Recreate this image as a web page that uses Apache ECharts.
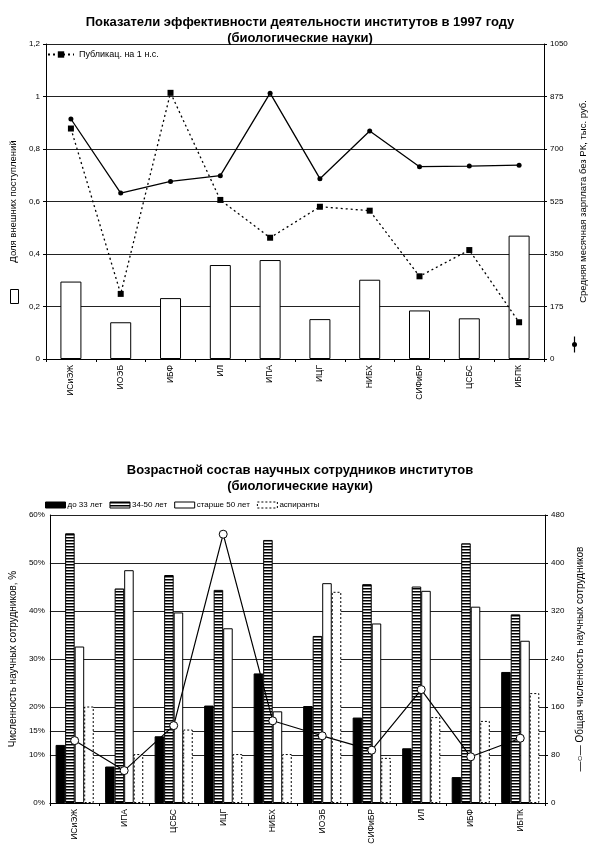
<!DOCTYPE html>
<html><head><meta charset="utf-8">
<script src="https://cdn.jsdelivr.net/npm/echarts@6/dist/echarts.min.js"></script>
<style>html,body{margin:0;padding:0;background:#fff}#c{width:600px;height:863px}</style>
</head><body><div id="c"></div>
<script>
// ---- Chart 1 data ----
const categories1 = ['ИСиЭЖ','ИОЭБ','ИБФ','ИЛ','ИПА','ИЦГ','НИБХ','СИФиБР','ЦСБС','ИБПК'];
const extShare = [0.295,0.14,0.232,0.358,0.377,0.152,0.302,0.185,0.155,0.47];
const salary = [800,553,592,611,886,601,760,641,643,646];
const pubs = [0.878,0.248,1.014,0.606,0.462,0.58,0.565,0.315,0.415,0.14];
const leftTicks1 = [0,0.2,0.4,0.6,0.8,1,1.2];
const rightTicks1 = [0,175,350,525,700,875,1050];

// ---- Chart 2 data ----
const categories2 = ['ИСиЭЖ','ИПА','ЦСБС','ИЦГ','НИБХ','ИОЭБ','СИФиБР','ИЛ','ИБФ','ИБПК'];
const under33 = [12.1,7.6,13.9,20.3,27,20.2,17.8,11.4,5.4,27.3];
const age3450 = [56.2,44.7,47.5,44.4,54.8,34.8,45.6,45.1,54.1,39.3];
const over50 = [32.6,48.5,39.7,36.4,19.1,45.8,37.4,44.2,40.9,33.8];
const aspirants = [20.1,10.2,15.3,10.2,10.2,44,9.4,17.9,17.1,22.9];
const totalStaff = [104,54,129,448,137,112,88,189,77,108];
const leftLabels2 = [0,10,15,20,30,40,50,60];

const FONT = '"Liberation Sans", Arial, sans-serif';
const GRID = '#222';

// stripe pattern
const pc = document.createElement('canvas');
pc.width = 4; pc.height = 3;
const px = pc.getContext('2d');
px.fillStyle = '#fff'; px.fillRect(0,0,4,3);
px.fillStyle = '#000'; px.fillRect(0,0,4,1.5);
const stripe = {image: pc, repeat: 'repeat'};

// split line colors for 0..60 step 5: visible only at labelled values
const split2 = [];
for (let v = 0; v <= 60; v += 5) split2.push(leftLabels2.includes(v) ? GRID : 'rgba(0,0,0,0)');

const chart = echarts.init(document.getElementById('c'), null, {renderer: 'canvas'});
const commaFmt = v => (Math.round(v*10)/10).toString().replace('.', ',');

chart.setOption({
  backgroundColor: '#fff',
  animation: false,
  textStyle: {fontFamily: FONT, color: '#000'},
  title: [
    {text: 'Показатели эффективности деятельности институтов в 1997 году\n(биологические науки)',
     left: 'center', top: 9,
     textStyle: {fontFamily: FONT, fontSize: 13, fontWeight: 'bold', color: '#000', lineHeight: 16, align: 'center'}},
    {text: 'Возрастной состав научных сотрудников институтов\n(биологические науки)',
     left: 'center', top: 457,
     textStyle: {fontFamily: FONT, fontSize: 13, fontWeight: 'bold', color: '#000', lineHeight: 16, align: 'center'}}
  ],
  legend: [
    {data: ['Публикац. на 1 н.с.'], left: 42, top: 45, itemWidth: 26, itemHeight: 8,
     textStyle: {fontFamily: FONT, fontSize: 9, color: '#000'}},
    {data: ['до 33 лет','34-50 лет','старше 50 лет',
            {name: 'аспиранты', itemStyle: {borderType: [2,2]}}],
     left: 40, top: 496,
     icon: 'rect', itemWidth: 20, itemHeight: 6, itemGap: 7,
     itemStyle: {borderWidth: 1},
     textStyle: {fontFamily: FONT, fontSize: 8, color: '#000', padding: [0,0,0,-3]}}
  ],
  grid: [
    {left: 40, top: 44, width: 504, height: 315, containLabel: false},
    {left: 48, top: 515, width: 497, height: 288, containLabel: false}
  ],
  xAxis: [
    {type: 'category', gridIndex: 0, data: categories1,
     axisLine: {lineStyle: {color: '#000'}},
     axisTick: {show: true, length: 3, lineStyle: {color: '#000'}},
     axisLabel: {rotate: 90, fontSize: 8.5, color: '#000', margin: 6, fontFamily: FONT}},
    {type: 'category', gridIndex: 1, data: categories2,
     axisLine: {lineStyle: {color: '#000'}},
     axisTick: {show: true, length: 3, lineStyle: {color: '#000'}},
     axisLabel: {rotate: 90, fontSize: 8.5, color: '#000', margin: 6, fontFamily: FONT}}
  ],
  yAxis: [
    {type: 'value', gridIndex: 0, min: 0, max: 1.2, interval: 0.2,
     name: 'Доля внешних поступлений', nameLocation: 'middle', nameGap: 24,
     nameTextStyle: {fontSize: 9.5, color: '#000', fontFamily: FONT},
     axisLine: {show: true, lineStyle: {color: '#000'}},
     axisTick: {show: true, length: 3, lineStyle: {color: '#000'}},
     axisLabel: {fontSize: 8, color: '#000', formatter: commaFmt, margin: 6},
     splitLine: {show: true, lineStyle: {color: GRID, width: 1}}},
    {type: 'value', gridIndex: 0, min: 0, max: 1050, interval: 175, position: 'right',
     name: 'Средняя месячная зарплата без РК, тыс. руб.', nameLocation: 'middle', nameGap: 28,
     nameRotate: 90,
     nameTextStyle: {fontSize: 9.5, color: '#000', fontFamily: FONT},
     axisLine: {show: true, lineStyle: {color: '#000'}},
     axisTick: {show: true, length: 3, lineStyle: {color: '#000'}},
     axisLabel: {fontSize: 8, color: '#000', margin: 6, formatter: v => String(v)},
     splitLine: {show: false}},
    {type: 'value', gridIndex: 1, min: 0, max: 60, interval: 5,
     name: 'Численность научных сотрудников, %', nameLocation: 'middle', nameGap: 28,
     nameTextStyle: {fontSize: 10, color: '#000', fontFamily: FONT},
     axisLine: {show: true, lineStyle: {color: '#000'}},
     axisTick: {show: false},
     axisLabel: {fontSize: 8, color: '#000', margin: 5,
       formatter: v => leftLabels2.includes(v) ? v + '%' : ''},
     splitLine: {show: true, lineStyle: {color: split2, width: 1}}},
    {type: 'value', gridIndex: 1, min: 0, max: 480, interval: 80, position: 'right',
     name: '—○— Общая численность научных сотрудников', nameLocation: 'middle', nameGap: 26,
     nameRotate: 90,
     nameTextStyle: {fontSize: 10, color: '#000', fontFamily: FONT},
     axisLine: {show: true, lineStyle: {color: '#000'}},
     axisTick: {show: true, length: 3, lineStyle: {color: '#000'}},
     axisLabel: {fontSize: 8, color: '#000', margin: 6},
     splitLine: {show: false}}
  ],
  series: [
    {name: 'Доля внешних поступлений', type: 'bar', xAxisIndex: 0, yAxisIndex: 0, data: extShare,
     barWidth: 21, itemStyle: {color: '#fff', borderColor: '#000', borderWidth: 1}},
    {name: 'Средняя зарплата', type: 'line', xAxisIndex: 0, yAxisIndex: 1, data: salary,
     symbol: 'circle', symbolSize: 5, itemStyle: {color: '#000'},
     lineStyle: {color: '#000', width: 1.3}},
    {name: 'Публикац. на 1 н.с.', type: 'line', xAxisIndex: 0, yAxisIndex: 0, data: pubs,
     symbol: 'rect', symbolSize: 6, itemStyle: {color: '#000'},
     lineStyle: {color: '#000', width: 1.3, type: [2,3]}},

    {name: 'до 33 лет', type: 'bar', xAxisIndex: 1, yAxisIndex: 2, data: under33,
     barGap: '0%', barCategoryGap: '23%',
     itemStyle: {color: '#000', borderColor: '#000', borderWidth: 1}},
    {name: '34-50 лет', type: 'bar', xAxisIndex: 1, yAxisIndex: 2, data: age3450,
     barGap: '0%', barCategoryGap: '23%',
     itemStyle: {color: stripe, borderColor: '#000', borderWidth: 1}},
    {name: 'старше 50 лет', type: 'bar', xAxisIndex: 1, yAxisIndex: 2, data: over50,
     barGap: '0%', barCategoryGap: '23%',
     itemStyle: {color: '#fff', borderColor: '#000', borderWidth: 1}},
    {name: 'аспиранты', type: 'bar', xAxisIndex: 1, yAxisIndex: 2, data: aspirants,
     barGap: '0%', barCategoryGap: '23%',
     itemStyle: {color: '#fff', borderColor: '#000', borderWidth: 1, borderType: [2,2]}},
    {name: 'Общая численность', type: 'line', xAxisIndex: 1, yAxisIndex: 3, data: totalStaff,
     symbol: 'circle', symbolSize: 8, z: 5,
     itemStyle: {color: '#fff', borderColor: '#000', borderWidth: 1},
     lineStyle: {color: '#000', width: 1.2}}
  ],
  graphic: [
    {type: 'rect', left: 10, top: 289, shape: {width: 8, height: 14},
     style: {fill: '#fff', stroke: '#000', lineWidth: 1}},
    {type: 'group', left: 572, top: 334, children: [
      {type: 'line', shape: {x1: 3, y1: 0, x2: 3, y2: 16}, style: {stroke: '#000', lineWidth: 1.2}},
      {type: 'circle', shape: {cx: 3, cy: 8, r: 2.5}, style: {fill: '#000'}}
    ]}
  ]
});
</script></body></html>
